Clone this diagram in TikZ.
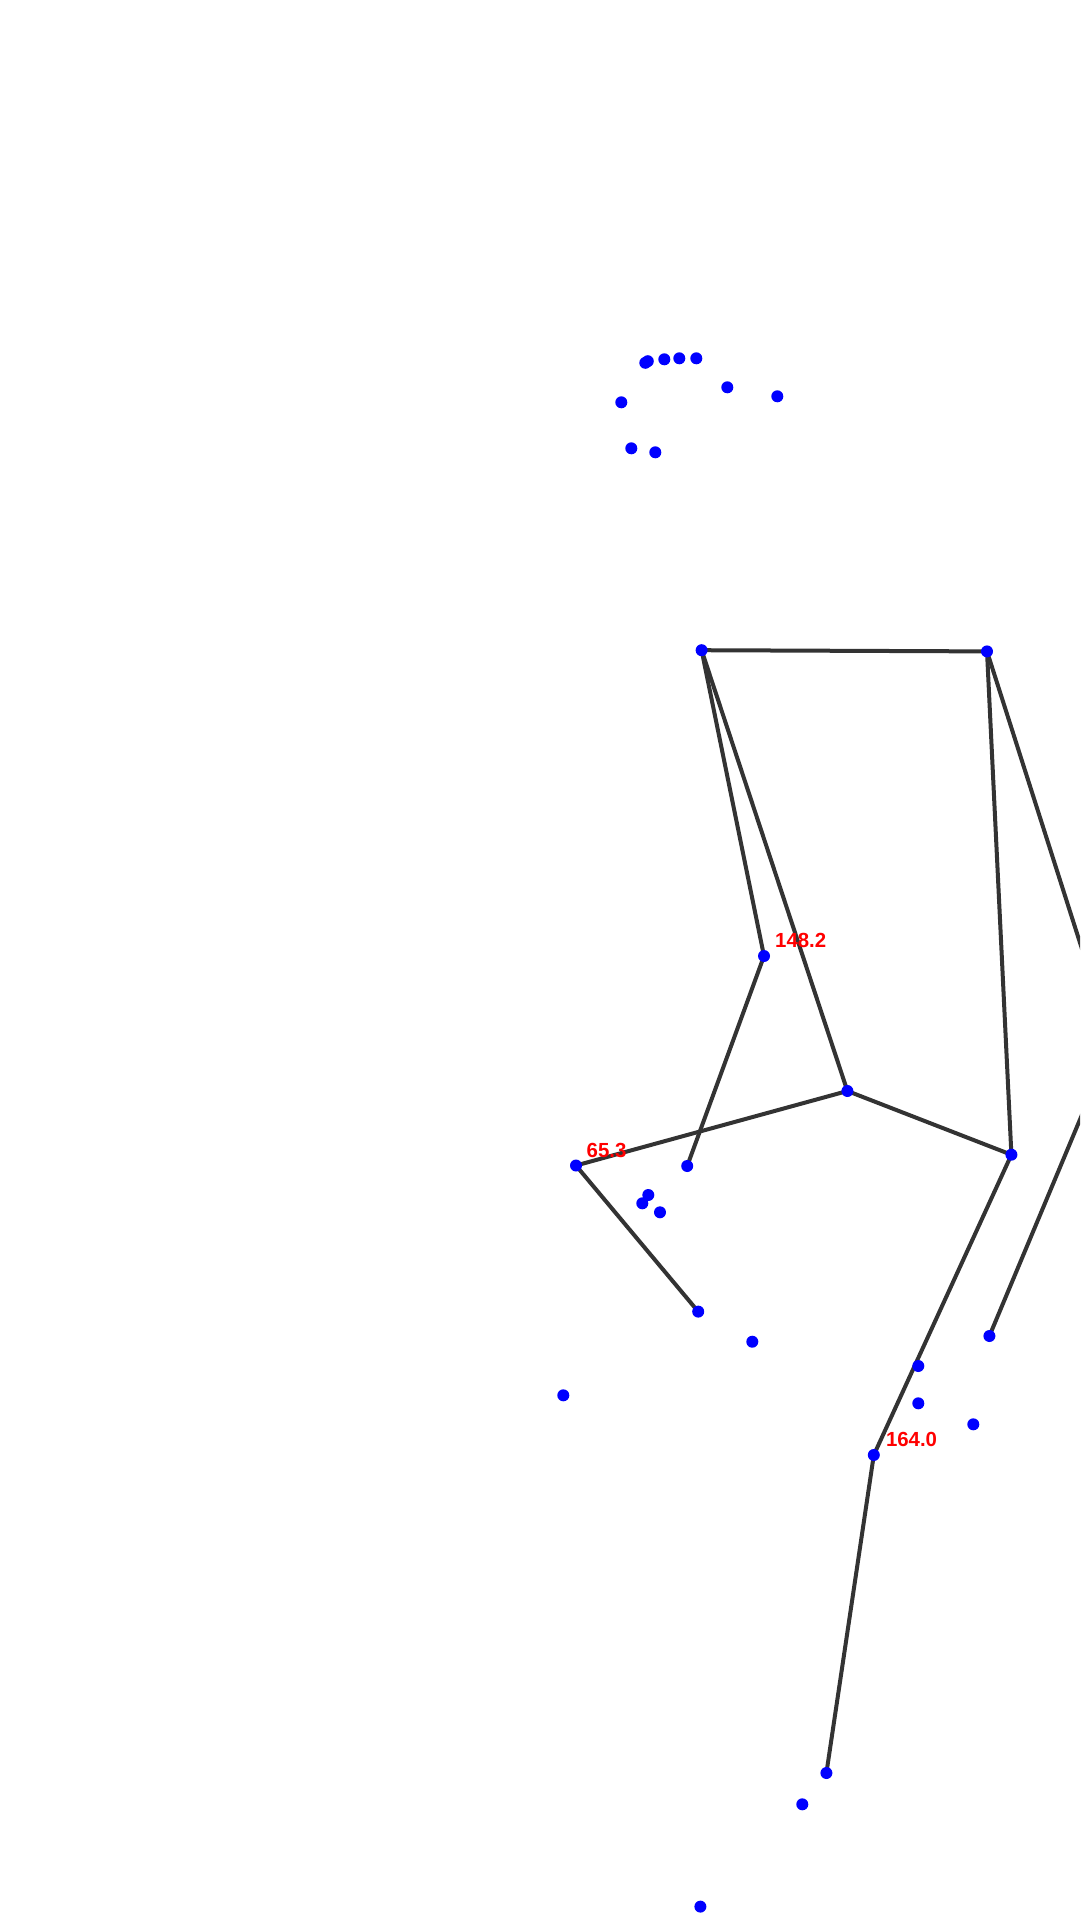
\documentclass[tikz,border=0pt]{standalone}
\usepackage{fontspec}
\setmainfont{Liberation Sans}
\definecolor{bone}{HTML}{333333}
\begin{document}
\begin{tikzpicture}[x=1pt,y=-1pt,
  bonestyle/.style={draw=bone,line width=4pt},
  jointstyle/.style={fill=blue},
  anglelabel/.style={anchor=base west,inner sep=0pt,text=red,font=\fontsize{20.4}{22}\selectfont\bfseries}]
\useasboundingbox (0,0) rectangle (1080,1920);
\fill[white] (0,0) rectangle (1080,1920);
% skeleton points
\coordinate (A) at (701.6,650.2);
\coordinate (B) at (987,651.4);
\coordinate (C) at (764,956);
\coordinate (D) at (847.4,1091);
\coordinate (E) at (687.2,1166);
\coordinate (F) at (576,1165.5);
\coordinate (G) at (698.2,1311.6);
\coordinate (H) at (1011.4,1154.7);
\coordinate (I) at (989.4,1336);
\coordinate (J) at (873.8,1455);
\coordinate (K) at (826.4,1773);
\coordinate (X) at (1112,1043);
% bones
\begin{scope}
\clip (0,0) rectangle (1080,1920);
\draw[bonestyle] (A) -- (B);
\draw[bonestyle] (A) -- (C);
\draw[bonestyle] (A) -- (D);
\draw[bonestyle] (C) -- (E);
\draw[bonestyle] (D) -- (F);
\draw[bonestyle] (F) -- (G);
\draw[bonestyle] (D) -- (H);
\draw[bonestyle] (B) -- (H);
\draw[bonestyle] (H) -- (J);
\draw[bonestyle] (J) -- (K);
\draw[bonestyle] (B) -- (X);
\draw[bonestyle] (X) -- (I);
\end{scope}
% joints
\foreach \p in {A,B,C,D,E,F,G,H,I,J,K}
  \fill[jointstyle] (\p) circle (6);
% other keypoints
\foreach \x/\y in {645.3/362.8, 647.8/361.2, 664.3/359.3, 679.3/358.3, 696.3/358.3,
  727.3/387.3, 777.3/396.3, 621.3/402.3, 631.3/448.3, 655.3/452.3,
  648.3/1195, 642.3/1203.3, 660/1212.3, 752.3/1341.7, 563.3/1395.3,
  918.3/1366, 918.3/1403.3, 973.3/1424.3, 802.3/1804.3, 700.4/1906.6}
  \fill[jointstyle] (\x,\y) circle (6);
% angle labels
\node[anglelabel] (lc) at ([xshift=11pt,yshift=8.5pt]C) {148.2};
\node[anglelabel] (lf) at ([xshift=10.5pt,yshift=8.5pt]F) {65.3};
\node[anglelabel] (lj) at ([xshift=12pt,yshift=9pt]J) {164.0};
\end{tikzpicture}
\end{document}
